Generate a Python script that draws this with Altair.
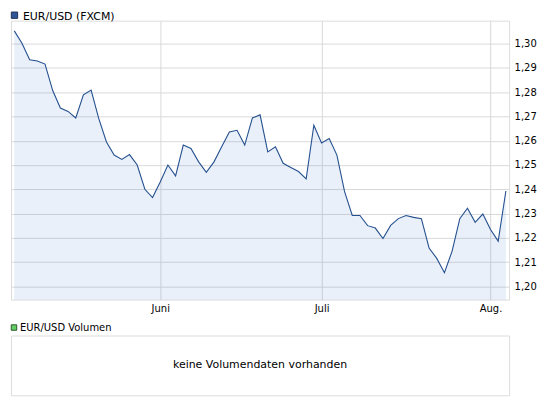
import altair as alt
import pandas as pd

# --- data -------------------------------------------------------------
start_date = "2012-05-07"
end_date = "2012-08-03"
values = [
    1.3053, 1.3002, 1.2934, 1.2929, 1.2916, 1.2807, 1.2735, 1.2721, 1.2694, 1.2789, 1.2809, 1.2691, 1.2595,
    1.2541, 1.2523, 1.2543, 1.2500, 1.2400, 1.2366, 1.2430, 1.2500, 1.2455, 1.2582, 1.2568, 1.2513, 1.2470,
    1.2513, 1.2575, 1.2636, 1.2643, 1.2582, 1.2694, 1.2707, 1.2554, 1.2575, 1.2507, 1.2490, 1.2473, 1.2443,
    1.2664, 1.2591, 1.2609, 1.2541, 1.2390, 1.2292, 1.2292, 1.2250, 1.2240, 1.2197, 1.2251, 1.2279, 1.2292,
    1.2284, 1.2279, 1.2158, 1.2115, 1.2056, 1.2145, 1.2279, 1.2322, 1.2264, 1.2298, 1.2234, 1.2186, 1.2393,
]
month_labels = ["Juni", "Juli", "Aug."]
y_ticks = [1.20, 1.21, 1.22, 1.23, 1.24, 1.25, 1.26, 1.27, 1.28, 1.29, 1.30]
y_domain = [1.1945, 1.3095]
series_title = "EUR/USD (FXCM)"
volume_title = "EUR/USD Volumen"
volume_message = "keine Volumendaten vorhanden"

dates = pd.bdate_range(start_date, end_date)
df = pd.DataFrame({"i": range(len(values)), "date": dates[: len(values)], "value": values})

# first business day of each new month -> tick positions
tick_pos = [int(i) for i in range(1, len(df)) if df["date"][i].month != df["date"][i - 1].month]
label_expr = " : ".join(
    f"datum.value == {p} ? '{lab}'" for p, lab in zip(tick_pos[:-1], month_labels[:-1])
) + f" : '{month_labels[-1]}'"

FONT = "DejaVu Sans"
GRID = "#d9d9d9"

x_enc = alt.X(
    "i:Q",
    scale=alt.Scale(domain=[-0.43, len(values) - 1 + 0.42], nice=False, zero=False),
    axis=alt.Axis(values=tick_pos, labelExpr=label_expr, title=None, ticks=False, domain=False,
                  grid=True, gridColor=GRID, labelPadding=4, labelFontSize=10, labelColor="#000",
                  labelFont=FONT),
)
y_enc = alt.Y(
    "value:Q",
    scale=alt.Scale(domain=y_domain, nice=False, zero=False),
    axis=alt.Axis(orient="right", values=y_ticks,
                  labelExpr="replace(format(datum.value, '.2f'), '.', ',')",
                  title=None, ticks=False, domain=False, grid=True, gridColor=GRID,
                  labelPadding=5, labelFontSize=10, labelColor="#000", labelFont=FONT),
)

base = alt.Chart(df)
area = base.mark_area(color="#4882d5", opacity=0.12).encode(x=x_enc, y=y_enc, y2=alt.datum(y_domain[0]))
line = base.mark_line(color="#25508f", strokeWidth=1.1).encode(x=x_enc, y=y_enc)

tdf = pd.DataFrame({"label": [series_title]})
t_sq = alt.Chart(tdf).mark_square(size=40, fill="#2f5597", stroke="#1c2f55", strokeWidth=1, opacity=1).encode(
    x=alt.value(3.5), y=alt.value(-5.5))
t_txt = alt.Chart(tdf).mark_text(align="left", baseline="middle", fontSize=11, font=FONT, color="#000").encode(
    x=alt.value(12), y=alt.value(-4), text="label")

main = alt.layer(area, line, t_sq, t_txt).properties(width=500, height=280)

vdf = pd.DataFrame({"label": [volume_title], "msg": [volume_message]})
v_sq = alt.Chart(vdf).mark_square(size=30, fill="#66cc66", stroke="#2a5a2a", strokeWidth=1, opacity=1).encode(
    x=alt.value(3), y=alt.value(-8))
v_lab = alt.Chart(vdf).mark_text(align="left", baseline="middle", fontSize=10, font=FONT, color="#000").encode(
    x=alt.value(9), y=alt.value(-8), text="label")
v_msg = alt.Chart(vdf).mark_text(align="center", baseline="middle", fontSize=11, font=FONT, color="#000").encode(
    x=alt.value(250), y=alt.value(30), text="msg")
vol = alt.layer(v_msg, v_sq, v_lab).properties(width=500, height=60)

chart = (
    alt.vconcat(main, vol, spacing=7)
    .properties(padding=0)
    .configure_view(stroke=GRID, strokeWidth=1)
    .configure(font=FONT)
)

chart.save("out.html", embed_options={"renderer": "svg", "actions": False})
